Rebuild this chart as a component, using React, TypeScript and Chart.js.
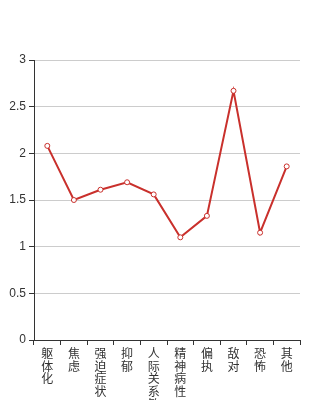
import React, { useEffect, useRef } from "react";
import { Chart, registerables } from "chart.js";
Chart.register(...registerables);

const categories = ["躯体化", "焦虑", "强迫症状", "抑郁", "人际关系敏感", "精神病性", "偏执", "敌对", "恐怖", "其他"];
const values = [2.08, 1.5, 1.61, 1.69, 1.56, 1.1, 1.33, 2.67, 1.15, 1.86];

export default function App() {
  const ref = useRef<HTMLCanvasElement>(null);
  useEffect(() => {
    const chart = new Chart(ref.current!, {
      type: "line",
      data: {
        labels: categories,
        datasets: [
          {
            data: values,
            borderColor: "#c9302c",
            borderWidth: 2,
            pointRadius: 2.5,
            pointBackgroundColor: "#ffffff",
            pointBorderColor: "#c9302c",
            pointBorderWidth: 1,
            tension: 0,
          },
        ],
      },
      options: {
        animation: false,
        responsive: false,
        plugins: { legend: { display: false }, tooltip: { enabled: false } },
        layout: { padding: { top: 60, right: 34, left: 0, bottom: 0 } },
        scales: {
          x: {
            offset: true,
            afterFit: (s: any) => { s.height = 60; },
            grid: { offset: true, drawOnChartArea: false, drawTicks: true, tickLength: 5, color: "#333" },
            border: { color: "#333", width: 1 },
            ticks: {
              autoSkip: false,
              maxRotation: 0,
              padding: 2,
              color: "#333",
              font: { family: "'Noto Sans CJK SC', sans-serif", size: 12, lineHeight: 1.06 },
              callback: (_v: any, i: number) => categories[i].split(""),
            },
          },
          y: {
            min: 0,
            max: 3,
            afterFit: (s: any) => { s.width = 34; },
            grid: { color: "#cccccc", tickColor: "#333", tickLength: 5 },
            border: { color: "#333", width: 1 },
            ticks: {
              stepSize: 0.5,
              padding: 3,
              color: "#333",
              font: { family: "'Liberation Sans', Arial, sans-serif", size: 12 },
              callback: (v: any) => String(Number(v)),
            },
          },
        },
      },
    });
    return () => chart.destroy();
  }, []);
  return (
    <div style={{ position: "fixed", left: 0, top: 0, width: 334, height: 400, background: "#fff" }}>
      <canvas ref={ref} width={334} height={400} style={{ width: 334, height: 400 }} />
    </div>
  );
}
